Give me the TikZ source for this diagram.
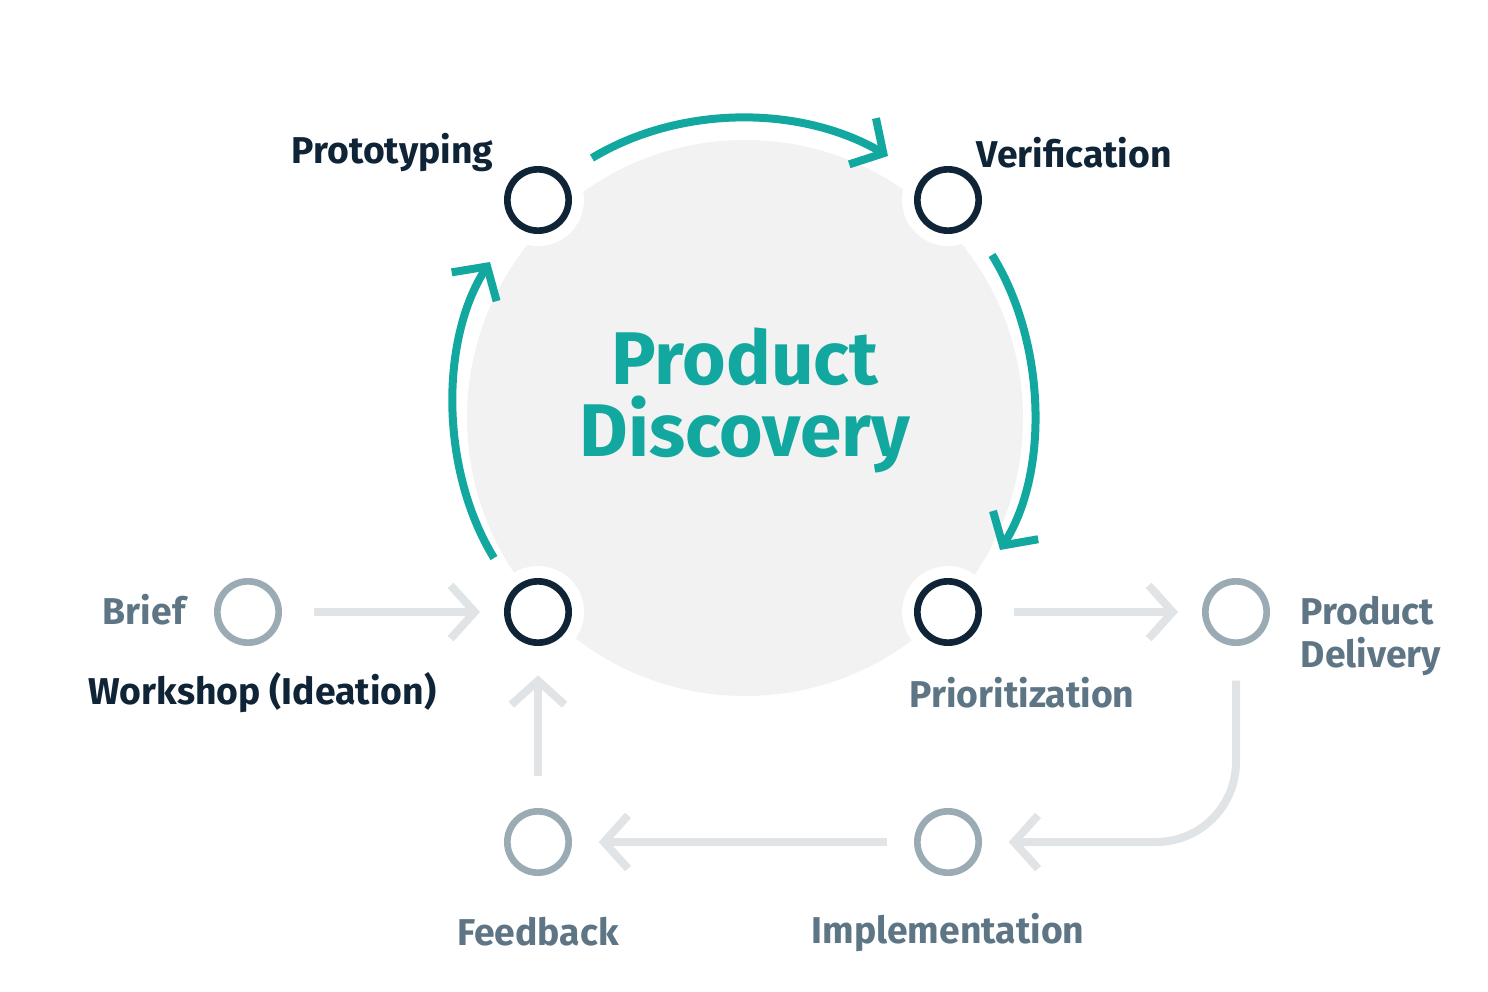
\documentclass[tikz,border=0pt]{standalone}
\usepackage{fontspec}
\setmainfont{Fira Sans}
\usetikzlibrary{arrows.meta}
\definecolor{teal1}{HTML}{12A8A0}
\definecolor{navy}{HTML}{0F2436}
\definecolor{gtext}{HTML}{5E7585}
\definecolor{gcirc}{HTML}{9AABB3}
\definecolor{garrow}{HTML}{E0E4E6}
\definecolor{blob}{HTML}{F2F2F2}
\begin{document}
\begin{tikzpicture}[x=0.75pt,y=-0.75pt,
  dk/.style={circle,draw=navy,line width=5pt,minimum size=46pt,inner sep=0pt},
  gy/.style={circle,draw=gcirc,line width=5pt,minimum size=46pt,inner sep=0pt},
  lbl/.style={font=\bfseries\fontsize{28}{32}\selectfont},
  tarr/.style={teal1,line width=6pt,-{Straight Barb[length=18pt,width=40pt,line width=6pt]}},
  garr/.style={garrow,line width=6pt,-{Straight Barb[length=18pt,width=40pt,line width=6pt]}}]
\useasboundingbox (0,0) rectangle (1488,992);
\fill[blob] (745,418) circle (278);
\foreach \p in {(538,200),(948,200),(538,612),(948,612)} \fill[white] \p circle (46);
\node[dk] (proto) at (538,200) {};
\node[dk] (veri) at (948,200) {};
\node[dk] (work) at (538,612) {};
\node[dk] (prio) at (948,612) {};
\node[gy] (brief) at (248,612) {};
\node[gy] (deliv) at (1236,612) {};
\node[gy] (feed) at (538,842) {};
\node[gy] (impl) at (948,842) {};
\coordinate (t1) at (592,158); \coordinate (t2) at (888,156);
\draw[tarr] (t1) .. controls (680,105) and (800,105) .. (t2);
\coordinate (r1) at (992,255); \coordinate (r2) at (1000,550);
\draw[tarr] (r1) .. controls (1045,340) and (1050,470) .. (r2);
\coordinate (l1) at (494,558); \coordinate (l2) at (490,262);
\draw[tarr] (l1) .. controls (440,470) and (440,340) .. (l2);
\draw[garr] ([xshift=24pt]brief.east) -- ([xshift=-18pt]work.west);
\draw[garr] ([xshift=24pt]prio.east) -- ([xshift=-18pt]deliv.west);
\draw[garr,rounded corners=60] ([yshift=-26pt]deliv.south) -- (1236,842) -- ([xshift=20pt]impl.east);
\draw[garr] ([xshift=-20pt]impl.west) -- ([xshift=20pt]feed.east);
\draw[garr] ([yshift=24pt]feed.north) -- ([yshift=-22pt]work.south);
\node[lbl,text=navy,anchor=east] (tproto) at (498,153) {Prototyping};
\node[lbl,text=navy,anchor=west] (tveri) at (972,153) {Verification};
\node[lbl,text=gtext,anchor=east] (tbrief) at (190,610) {Brief};
\node[lbl,text=navy,anchor=west] (twork) at (84,693) {Workshop (Ideation)};
\node[lbl,text=gtext] (tprio) at (1022,693) {Prioritization};
\node[lbl,text=gtext,anchor=west,align=left] (tdel) at (1296,636) {Product\\Delivery};
\node[lbl,text=gtext] (tfeed) at (538,932) {Feedback};
\node[lbl,text=gtext] (timpl) at (948,932) {Implementation};
\node[text=teal1,font=\bfseries\fontsize{56}{54}\selectfont,align=center] (disc) at (745,400) {Product\\Discovery};
\end{tikzpicture}
\end{document}
